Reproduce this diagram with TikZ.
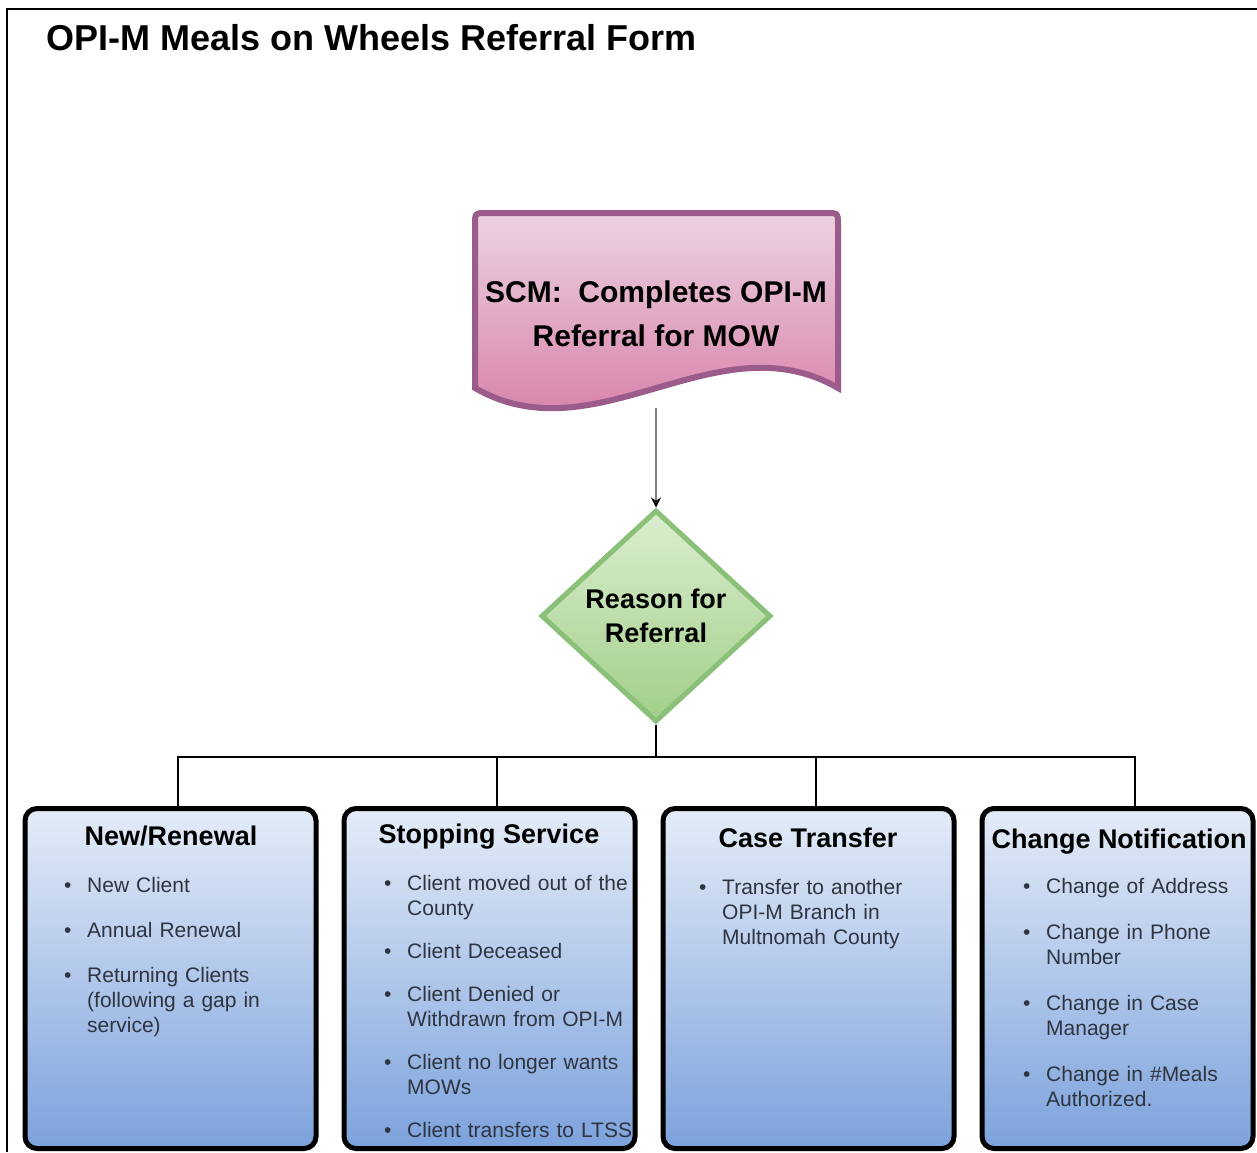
\documentclass[tikz,border=0pt]{standalone}
\usepackage{fontspec}
\setmainfont{Liberation Sans}
\usetikzlibrary{shapes.geometric,arrows.meta}
\definecolor{doctop}{HTML}{ECD3E2}
\definecolor{docbot}{HTML}{D4729F}
\definecolor{docborder}{HTML}{9B5B8B}
\definecolor{diatop}{HTML}{DAEED0}
\definecolor{diabot}{HTML}{A2CF88}
\definecolor{diaborder}{HTML}{8BC079}
\definecolor{boxtop}{HTML}{E4ECF8}
\definecolor{boxbot}{HTML}{7CA2DC}
\definecolor{bodytext}{HTML}{2E3440}
\definecolor{arrowgray}{HTML}{808080}
\newcommand\itm[1]{\noindent\hangindent=23pt\hangafter=1\hbox to 23pt{\textbullet\hfil}#1\par}
\newcommand\nl{\hfil\break}
\begin{document}
\begin{tikzpicture}[x=1pt,y=-1pt,
  catbox/.style={draw=black, line width=5pt, rounded corners=12pt, top color=boxtop, bottom color=boxbot, minimum height=340pt, minimum width=291pt, inner sep=0pt},
  cattitle/.style={anchor=base, inner sep=0pt, font=\fontsize{27}{32}\selectfont\bfseries, text=black},
  catbody/.style={anchor=base west, inner sep=0pt, text width=285pt, font=\fontsize{21}{25}\selectfont, text=bodytext},
  conn/.style={draw=black, line width=2.5pt}
]
\useasboundingbox (0,0) rectangle (1257,1152);
\fill[white] (0,0) rectangle (1257,1152);
% outer frame
\draw[line width=2.5pt, black] (7,1152) -- (7,9) -- (1257,9);
% title
\node[anchor=base west, inner sep=0pt, font=\fontsize{36}{40}\selectfont\bfseries] (title) at (46,50) {OPI-M Meals on Wheels Referral Form};
% document shape
\draw[line width=6pt, draw=docborder, top color=doctop, bottom color=docbot]
  (475,388) -- (475,225) .. controls (475,213) .. (487,213) -- (826,213)
  .. controls (838,213) .. (838,225) -- (838,388)
  .. controls (717,318) and (596,458) .. (475,388) -- cycle;
\node[align=center, inner sep=0pt, font=\fontsize{30}{44}\selectfont\bfseries] (scm) at (656,314) {SCM:\ \ Completes OPI-M\\Referral for MOW};
\coordinate (docbot) at (656,408);
% decision
\node[shape=diamond, draw=diaborder, line width=5pt, top color=diatop, bottom color=diabot, minimum width=230pt, minimum height=212pt, inner sep=0pt, align=center, font=\fontsize{27}{34}\selectfont\bfseries] (dia) at (656,616) {Reason for\\Referral};
\draw[draw=arrowgray, line width=2pt, -{Stealth[color=black, length=10pt, width=10pt]}] (docbot) -- (dia.north);
% category boxes
\node[catbox] (b1) at (170.5,978.5) {};
\node[catbox] (b2) at (489.5,978.5) {};
\node[catbox] (b3) at (808.5,978.5) {};
\node[catbox, minimum width=271pt] (b4) at (1117.5,978.5) {};
% connectors
\coordinate (bus) at (656,757);
\draw[conn] (dia.south) -- (bus);
\draw[conn] (bus) -| ([xshift=7.5pt]b1.north);
\draw[conn] (bus) -| ([xshift=7.5pt]b2.north);
\draw[conn] (bus) -| ([xshift=7.5pt]b3.north);
\draw[conn] (bus) -| ([xshift=17.5pt]b4.north);
% titles
\node[cattitle] (t1) at (171,845) {New/Renewal};
\node[cattitle] (t2) at (489,843) {Stopping Service};
\node[cattitle] (t3) at (808,847) {Case Transfer};
\node[cattitle] (t4) at (1119,848) {Change Notification};
% bodies
\node[catbody] (l1) at (64,892) {\raggedright\itm{New Client}\vspace{20pt}\itm{Annual Renewal}\vspace{20pt}\itm{Returning Clients\nl(following a gap in\nl service)}};
\node[catbody] (l2) at (384,890) {\raggedright\itm{Client moved out of the\nl County}\vspace{18pt}\itm{Client Deceased}\vspace{18pt}\itm{Client Denied or\nl Withdrawn from OPI-M}\vspace{18pt}\itm{Client no longer wants\nl MOWs}\vspace{18pt}\itm{Client transfers to LTSS}};
\node[catbody] (l3) at (699,894) {\raggedright\itm{Transfer to another\nl OPI-M Branch in\nl Multnomah County}};
\node[catbody] (l4) at (1023,893) {\raggedright\itm{Change of Address}\vspace{21pt}\itm{Change in Phone\nl Number}\vspace{21pt}\itm{Change in Case\nl Manager}\vspace{21pt}\itm{Change in \#Meals\nl Authorized.}};
\end{tikzpicture}
\end{document}
